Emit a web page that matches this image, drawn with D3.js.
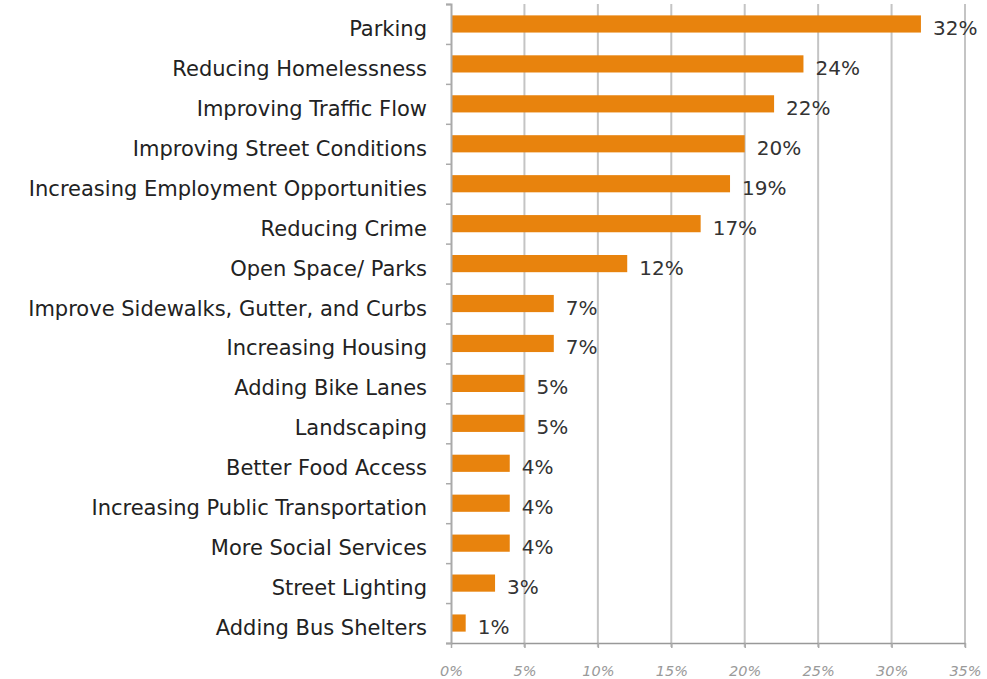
<!DOCTYPE html>
<html>
<head>
<meta charset="utf-8">
<title>Priorities</title>
<script src="https://d3js.org/d3.v7.min.js"></script>
<style>
  body { margin: 0; background: #fff; }
  .cat text { font-family: "DejaVu Sans", sans-serif; font-size: 21px; fill: #222; }
  .val { font-family: "DejaVu Sans", sans-serif; font-size: 20px; fill: #333; }
  .xax text { font-family: "DejaVu Sans", sans-serif; font-size: 14.5px; font-style: italic; fill: #9a9a9a; }
</style>
</head>
<body>
<svg width="987" height="679"></svg>
<script>
var categories = ["Parking", "Reducing Homelessness", "Improving Traffic Flow",
  "Improving Street Conditions", "Increasing Employment Opportunities", "Reducing Crime",
  "Open Space/ Parks", "Improve Sidewalks, Gutter, and Curbs", "Increasing Housing",
  "Adding Bike Lanes", "Landscaping", "Better Food Access",
  "Increasing Public Transportation", "More Social Services", "Street Lighting",
  "Adding Bus Shelters"];
var values = [32, 24, 22, 20, 19, 17, 12, 7, 7, 5, 5, 4, 4, 4, 3, 1];
var xTicks = [0, 5, 10, 15, 20, 25, 30, 35];

var svg = d3.select("svg");
var plotLeft = 451, plotRight = 965, plotTop = 4, plotBottom = 643;

var x = d3.scaleLinear().domain([0, 35]).range([plotLeft, plotRight]);
var y = d3.scaleBand().domain(categories).range([plotTop, plotBottom]).paddingInner(0.57).paddingOuter(0.285);

// grid
svg.append("g").selectAll("line")
  .data(xTicks.slice(1))
  .enter().append("line")
  .attr("x1", function(d) { return x(d); })
  .attr("x2", function(d) { return x(d); })
  .attr("y1", plotTop)
  .attr("y2", plotBottom + 4)
  .attr("stroke", "#c4c4c4")
  .attr("stroke-width", 2);

// bars
svg.append("g").selectAll("rect")
  .data(values)
  .enter().append("rect")
  .attr("x", x(0))
  .attr("y", function(d, i) { return y(categories[i]); })
  .attr("width", function(d) { return x(d) - x(0); })
  .attr("height", y.bandwidth())
  .attr("fill", "#e8830d");

// value labels
svg.append("g").selectAll("text")
  .data(values)
  .enter().append("text")
  .attr("class", "val")
  .attr("x", function(d) { return x(d) + 12; })
  .attr("y", function(d, i) { return y(categories[i]) + y.bandwidth() / 2 + 11; })
  .text(function(d) { return d + "%"; });

// y axis
var yAxis = d3.axisLeft(d3.scalePoint().domain(d3.range(17)).range([plotTop, plotBottom]))
  .tickSize(5).tickFormat("");
svg.append("g")
  .attr("transform", "translate(" + plotLeft + ",0)")
  .call(yAxis)
  .call(function(g) {
    g.select(".domain").attr("stroke", "#aaa").attr("stroke-width", 2);
    g.selectAll(".tick line").attr("stroke", "#aaa").attr("stroke-width", 1.5);
  });

// category labels
svg.append("g").attr("class", "cat").selectAll("text")
  .data(categories)
  .enter().append("text")
  .attr("x", 427)
  .attr("y", function(d) { return y(d) + y.bandwidth() / 2 + 12; })
  .attr("text-anchor", "end")
  .text(function(d) { return d; });

// x axis
var xAxis = d3.axisBottom(x).tickValues(xTicks).tickSize(5).tickSizeOuter(0)
  .tickPadding(18).tickFormat(function(d) { return d + "%"; });
svg.append("g")
  .attr("class", "xax")
  .attr("transform", "translate(0," + plotBottom + ")")
  .call(xAxis)
  .call(function(g) {
    g.select(".domain").attr("stroke", "#999").attr("stroke-width", 1.5);
    g.selectAll(".tick line").attr("stroke", "#aaa").attr("stroke-width", 1.5);
  });
</script>
</body>
</html>
